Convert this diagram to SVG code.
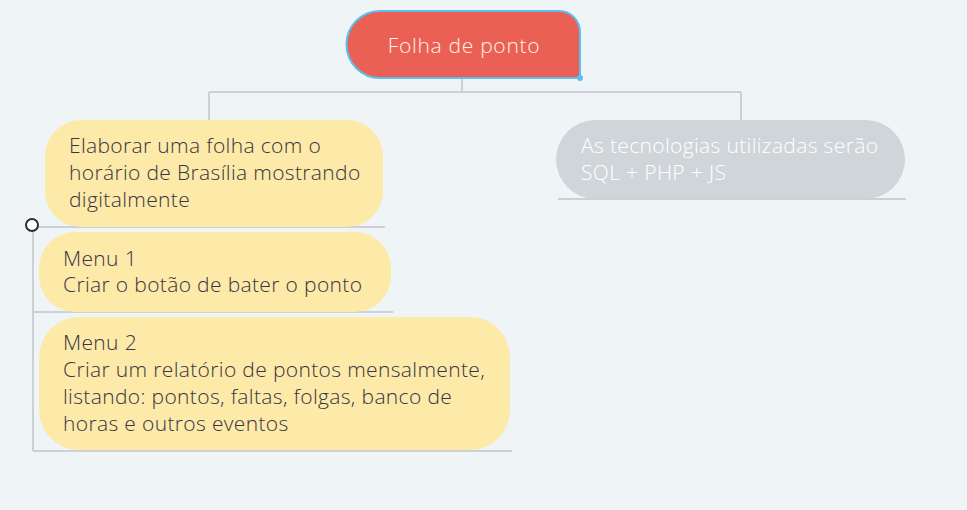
<svg xmlns="http://www.w3.org/2000/svg" width="967" height="510" viewBox="0 0 967 510">
<style>
.bg{fill:#eff4f7}
.ln{fill:none;stroke:#cdd1d5;stroke-width:2}
.yel{fill:#fde9a8}
.t{font-family:"Open Sans",Lato,sans-serif;font-weight:300;font-size:21px;letter-spacing:0.35px;fill:#363545}
.tw{font-family:"Open Sans",Lato,sans-serif;font-weight:300;font-size:21px;letter-spacing:0.35px;fill:#ffffff}
</style>
<rect class="bg" x="0" y="0" width="967" height="510"/>
<g id="connectors">
<path class="ln" d="M462 78V92M209 92H741M209 92V120M741 92V120"/>
<path class="ln" d="M33 227H385M33 227V451M33 312H393M33 451H512M558 199H906"/>
</g>
<g id="root">
<path d="M380 11H559A21 21 0 0 1 580 32V78H380A33.5 33.5 0 0 1 380 11Z" fill="#ea6054" stroke="#5bbff0" stroke-width="2"/>
<circle cx="580" cy="78" r="3" fill="#5bbff0"/>
<text class="tw" x="464" y="53" text-anchor="middle" style="fill:#fff4e6;letter-spacing:0.7px">Folha de ponto</text>
</g>
<g id="n1">
<rect class="yel" x="45" y="120" width="338" height="107" rx="36"/>
<text class="t" x="69" y="153">Elaborar uma folha com o</text>
<text class="t" x="69" y="180">horário de Brasília mostrando</text>
<text class="t" x="69" y="207">digitalmente</text>
<circle cx="32" cy="225" r="6" fill="#ffffff" stroke="#2f2a3e" stroke-width="2"/>
</g>
<g id="menu1">
<rect class="yel" x="39" y="232" width="352" height="80" rx="36"/>
<text class="t" x="63" y="266">Menu 1</text>
<text class="t" x="63" y="292">Criar o botão de bater o ponto</text>
</g>
<g id="menu2">
<rect class="yel" x="39" y="317" width="471" height="133" rx="40"/>
<text class="t" x="63" y="350">Menu 2</text>
<text class="t" x="63" y="377">Criar um relatório de pontos mensalmente,</text>
<text class="t" x="63" y="404">listando: pontos, faltas, folgas, banco de</text>
<text class="t" x="63" y="431">horas e outros eventos</text>
</g>
<g id="tech">
<rect x="556" y="120" width="349" height="79" rx="39.5" fill="#d0d5d9"/>
<text class="tw" x="581" y="153">As tecnologias utilizadas serão</text>
<text class="tw" x="581" y="180">SQL + PHP + JS</text>
</g>
</svg>
